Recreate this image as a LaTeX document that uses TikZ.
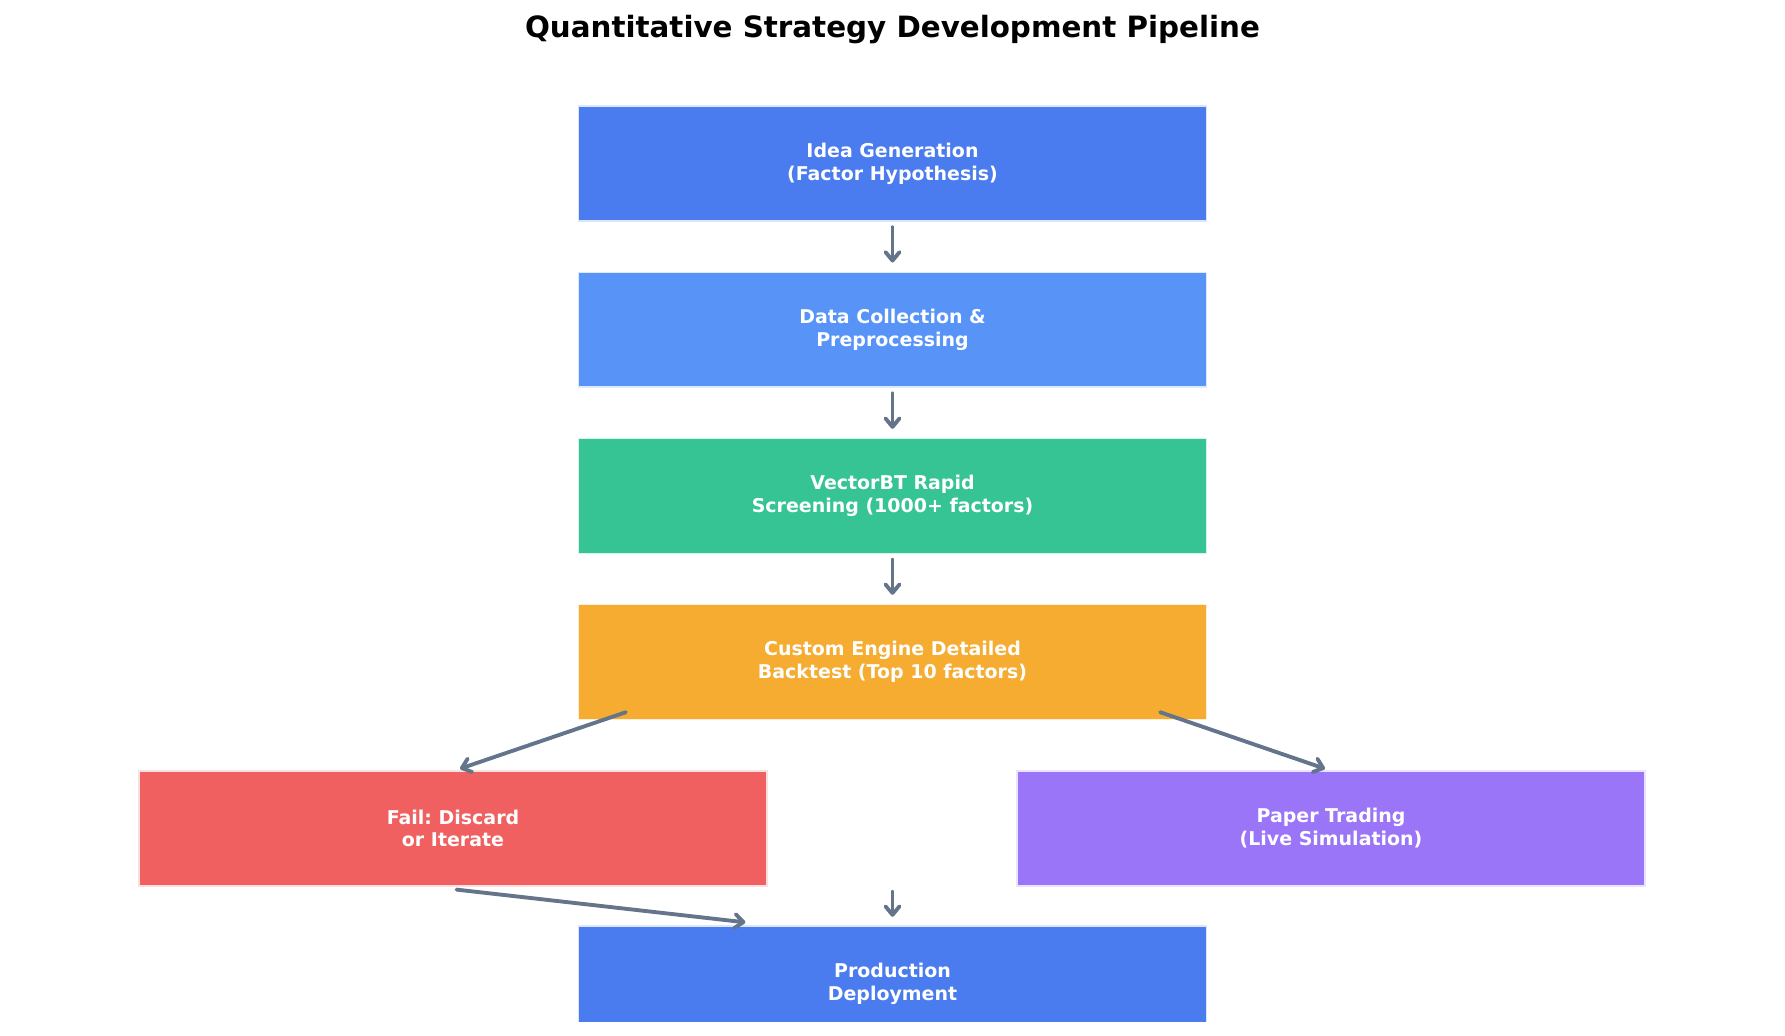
\documentclass[tikz,border=0pt]{standalone}
\usepackage{fontspec}
\setmainfont{DejaVu Sans}
\frenchspacing
\usetikzlibrary{arrows.meta}
\definecolor{ideablue}{HTML}{4A7BEF}
\definecolor{datablue}{HTML}{5893F8}
\definecolor{screengreen}{HTML}{36C494}
\definecolor{testorange}{HTML}{F5AC31}
\definecolor{failred}{HTML}{F06060}
\definecolor{paperpurple}{HTML}{9B75F7}
\definecolor{flowgray}{HTML}{64748B}
\tikzset{
    stage/.style={rectangle, fill=#1, draw=white!80!#1, line width=0.8pt,
        minimum width=12.56cm, minimum height=2.3cm, text=white, align=center,
        font=\fontsize{10.8}{13}\selectfont\bfseries},
    flow/.style={->, >={Straight Barb[length=1.7mm,width=2.8mm,round]}, flowgray, line width=2.2pt, line cap=round}
}
\begin{document}
\begin{tikzpicture}[x=0.02cm, y=-0.02cm]
    \useasboundingbox[fill=white] (0,0) rectangle (1785,1035);
    \node[font=\fontsize{16.7}{19}\selectfont\bfseries] (title) at (892.5,30) {Quantitative Strategy Development Pipeline};
    \node[stage=ideablue] (idea) at (892.5,163.5) {Idea Generation\\(Factor Hypothesis)};
    \node[stage=datablue] (data) at (892.5,329.7) {Data Collection \&\\Preprocessing};
    \node[stage=screengreen] (screen) at (892.5,496) {VectorBT Rapid\\Screening (1000+ factors)};
    \node[stage=testorange] (backtest) at (892.5,662) {Custom Engine Detailed\\Backtest (Top 10 factors)};
    \node[stage=failred] (fail) at (453,828.4) {Fail: Discard\\or Iterate};
    \node[stage=paperpurple] (paper) at (1331,828.4) {Paper Trading\\(Live Simulation)};
    \begin{scope}
        \clip (0,0) rectangle (1785,1021);
        \node[stage=ideablue] (deploy) at (892.5,983.5) {Production\\Deployment};
    \end{scope}
    % main chain
    \draw[flow, shorten <=0.11cm, shorten >=0.18cm] (idea) -- (data);
    \draw[flow, shorten <=0.11cm, shorten >=0.18cm] (data) -- (screen);
    \draw[flow, shorten <=0.11cm, shorten >=0.18cm] (screen) -- (backtest);
    % branches
    \draw[flow] ([xshift=0.96cm,yshift=0.16cm]backtest.south west) -- ([xshift=0.14cm,yshift=0.03cm]fail.north);
    \draw[flow] ([xshift=-0.94cm,yshift=0.16cm]backtest.south east) -- ([xshift=-0.12cm,yshift=0.03cm]paper.north);
    \draw[flow] ([xshift=0.07cm,yshift=-0.06cm]fail.south) -- ([xshift=3.35cm,yshift=0.06cm]deploy.north west);
    \coordinate (stub) at ([yshift=0.67cm]deploy.north);
    \draw[flow] (stub) -- ([yshift=0.17cm]deploy.north);
\end{tikzpicture}
\end{document}
